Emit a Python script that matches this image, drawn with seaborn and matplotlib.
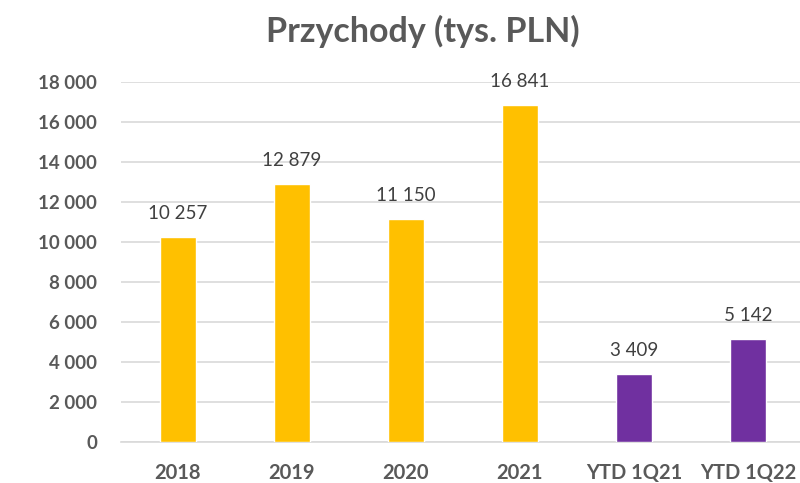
import matplotlib
matplotlib.use('Agg')
import matplotlib.pyplot as plt
import seaborn as sns
import pandas as pd
from matplotlib.ticker import FuncFormatter, FixedLocator

# dane z wykresu
kategorie = ['2018', '2019', '2020', '2021', 'YTD 1Q21', 'YTD 1Q22']
przychody = [10257, 12879, 11150, 16841, 3409, 5142]
kolory = ['#FFC000', '#FFC000', '#FFC000', '#FFC000', '#7030A0', '#7030A0']

sns.set_style("white")
plt.rcParams['font.family'] = ['Lato', 'DejaVu Sans']


def fmt_pl(v):
    return f"{int(round(v)):,}".replace(',', ' ')


df = pd.DataFrame({'kat': kategorie, 'val': przychody})

fig = plt.figure(figsize=(8, 4.83), dpi=100)
ax = fig.add_axes([0.151, 0.085, 0.855, 0.745])

sns.barplot(data=df, x='kat', y='val', hue='kat', palette=kolory, legend=False,
            width=0.32, ax=ax, zorder=3, saturation=1)

ax.set_ylim(0, 18000)
ax.set_xlim(-0.5, len(kategorie) - 0.5)
ax.set_yticks(range(0, 18001, 2000))
ax.yaxis.set_major_formatter(FuncFormatter(lambda v, p: fmt_pl(v)))
ax.grid(axis='y', color='#D9D9D9', linewidth=1.2, zorder=0)
ax.set_xlabel('')
ax.set_ylabel('')

for s in ['top', 'right', 'left']:
    ax.spines[s].set_visible(False)
ax.spines['bottom'].set_color('#D9D9D9')
ax.spines['bottom'].set_linewidth(1.2)

ax.tick_params(axis='both', which='major', length=0, colors='#595959')
ax.tick_params(axis='x', pad=15, labelsize=14.5)
ax.tick_params(axis='y', pad=17, labelsize=13.5)
for lab in ax.get_xticklabels() + ax.get_yticklabels():
    lab.set_fontweight('bold')
    lab.set_color('#595959')
ax.xaxis.set_minor_locator(FixedLocator([i - 0.5 for i in range(len(kategorie) + 1)]))
ax.tick_params(axis='x', which='minor', length=6, color='#D9D9D9', width=1.2)

for i, v in enumerate(przychody):
    ax.text(i, v + 750, fmt_pl(v), ha='center', va='bottom', fontsize=13.5, color='#404040')

fig.text(0.529, 0.935, 'Przychody (tys. PLN)', ha='center', va='center',
         fontsize=24.5, fontweight='bold', color='#595959')

fig.savefig('out.png', dpi=100)
